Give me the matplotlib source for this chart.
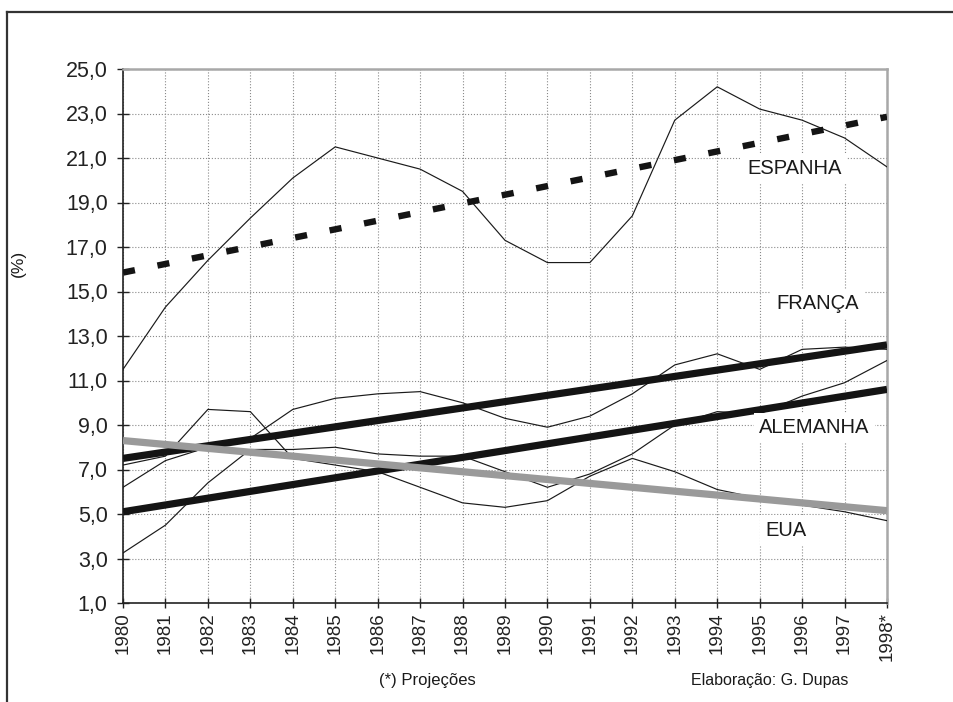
import matplotlib

matplotlib.use("Agg")

import matplotlib.pyplot as plt
from matplotlib.lines import Line2D

plt.rcParams["font.family"] = ["Liberation Sans", "DejaVu Sans"]

YEARS = list(range(1980, 1999))
YEAR_LABELS = [str(y) for y in YEARS[:-1]] + ["1998*"]

# unemployment rate (%)
ESPANHA = [11.5, 14.3, 16.4, 18.3, 20.1, 21.5, 21.0, 20.5, 19.5, 17.3,
           16.3, 16.3, 18.4, 22.7, 24.2, 23.2, 22.7, 21.9, 20.6]
FRANCA = [6.2, 7.4, 8.0, 8.4, 9.7, 10.2, 10.4, 10.5, 10.0, 9.3,
          8.9, 9.4, 10.4, 11.7, 12.2, 11.5, 12.4, 12.5, 12.4]
ALEMANHA = [3.25, 4.5, 6.4, 7.9, 7.9, 8.0, 7.7, 7.6, 7.6, 6.9,
            6.2, 6.8, 7.7, 9.0, 9.6, 9.5, 10.3, 10.9, 11.9]
EUA = [7.2, 7.6, 9.7, 9.6, 7.5, 7.2, 6.9, 6.2, 5.5, 5.3,
       5.6, 6.7, 7.5, 6.9, 6.1, 5.7, 5.4, 5.1, 4.7]

# linear trend lines, end values at 1980 and 1998 as drawn
TREND_YEARS = [1980, 1998]
TREND_ESPANHA = [15.85, 22.85]
TREND_FRANCA = [7.5, 12.6]
TREND_ALEMANHA = [5.1, 10.6]
TREND_EUA = [8.3, 5.15]

Y_TICKS = [1.0, 3.0, 5.0, 7.0, 9.0, 11.0, 13.0, 15.0, 17.0, 19.0, 21.0, 23.0, 25.0]

INK = "#1a1a1a"
GRAY = "#9a9a9a"
W, H = 954, 702


def main():
    fig = plt.figure(figsize=(W / 100, H / 100), dpi=100)
    ax = fig.add_axes([123 / W, 1 - 603 / H, (887 - 123) / W, (603 - 69) / H])

    # outer frame (only top and left edges are inside the picture)
    fig.add_artist(Line2D([7 / W, 1.0], [1 - 12 / H, 1 - 12 / H], transform=fig.transFigure,
                          color="#333333", lw=1.6))
    fig.add_artist(Line2D([7 / W, 7 / W], [0.0, 1 - 12 / H], transform=fig.transFigure,
                          color="#333333", lw=1.6))

    for series in (ESPANHA, FRANCA, ALEMANHA, EUA):
        ax.plot(YEARS, series, color=INK, lw=0.85, zorder=3)

    ax.plot(TREND_YEARS, TREND_FRANCA, color="#141414", lw=5.2, solid_capstyle="butt", zorder=4)
    ax.plot(TREND_YEARS, TREND_ALEMANHA, color="#141414", lw=5.2, solid_capstyle="butt", zorder=4)
    ax.plot(TREND_YEARS, TREND_EUA, color=GRAY, lw=5.2, solid_capstyle="butt", zorder=5)
    ax.plot(TREND_YEARS, TREND_ESPANHA, color="#141414", lw=4.6, dashes=(1.9, 3.6), zorder=5)

    ax.set_xlim(1980, 1998)
    ax.set_ylim(1, 25)
    ax.set_xticks(YEARS)
    ax.set_xticklabels(YEAR_LABELS, rotation=90, fontsize=13.5, color="#222222")
    ax.set_yticks(Y_TICKS)
    ax.set_yticklabels([f"{v:.1f}".replace(".", ",") for v in Y_TICKS], fontsize=15.5, color="#222222")
    ax.tick_params(axis="y", direction="inout", length=9, width=1.0, pad=6.5, color="#222222")
    ax.tick_params(axis="x", direction="inout", length=7, width=1.0, pad=3, color="#222222")

    ax.grid(True, linestyle=":", color="#8a8a8a", lw=0.8, zorder=1)
    ax.set_axisbelow(True)
    for sp in ("left", "bottom"):
        ax.spines[sp].set_color("#222222")
        ax.spines[sp].set_linewidth(1.2)
    for sp in ("top", "right"):
        ax.spines[sp].set_color("#a8a8a8")
        ax.spines[sp].set_linewidth(1.8)

    box = dict(facecolor="white", edgecolor="none", pad=4)
    for x, y, s in ((1994.70, 20.55, "ESPANHA"), (1995.39, 14.44, "FRANÇA"),
                    (1994.99, 8.87, "ALEMANHA"), (1995.13, 4.28, "EUA")):
        ax.text(x, y, s, ha="left", va="center", fontsize=14.5, color=INK, bbox=box, zorder=6)

    fig.text(18 / W, 1 - 263 / H, "(%)", rotation=90, ha="center", va="center", fontsize=12.5, color=INK)
    fig.text(427 / W, 1 - 680 / H, "(*) Projeções", ha="center", va="center", fontsize=12, color=INK)
    fig.text(770 / W, 1 - 680 / H, "Elaboração: G. Dupas", ha="center", va="center", fontsize=11.5, color=INK)

    fig.savefig("out.png", dpi=100, facecolor="white")
    plt.close(fig)


if __name__ == "__main__":
    main()
